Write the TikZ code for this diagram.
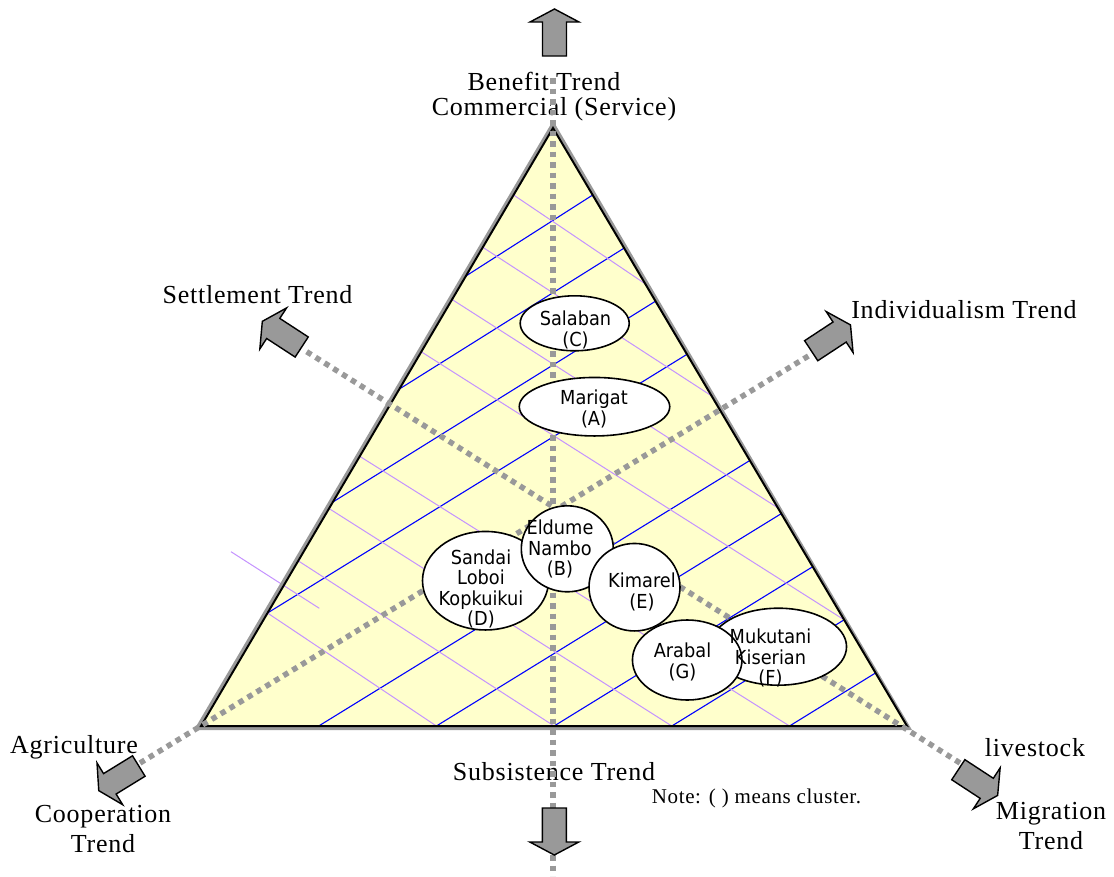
\documentclass[tikz,border=0pt]{standalone}
\usepackage{fontspec}
\setmainfont{Liberation Serif}
\newfontfamily\lblfont[LetterSpace=3]{Liberation Serif}
\newfontfamily\ellfont[FakeStretch=0.92]{DejaVu Sans}
\usetikzlibrary{shapes.geometric}
\definecolor{paleyellow}{RGB}{255,255,204}
\definecolor{axisgray}{RGB}{153,153,153}
\definecolor{gridblue}{RGB}{0,0,255}
\definecolor{gridviolet}{RGB}{196,146,255}

\begin{document}
\begin{tikzpicture}[x=1pt,y=-1pt,
  edgeshadow/.style={draw=axisgray, line width=3pt},
  edgeline/.style={draw=black, line width=2pt},
  bluegrid/.style={draw=gridblue, line width=1.1pt},
  violetgrid/.style={draw=gridviolet, line width=1pt},
  axis/.style={draw=axisgray, line width=5.5pt, dash pattern=on 5.5pt off 5pt},
  trendarrow/.style={fill=axisgray, draw=black, line width=1.4pt, line join=miter},
  cluster/.style={ellipse, draw=black, fill=white, line width=1.6pt, inner sep=0pt},
  clustertext/.style={font=\ellfont\fontsize{19.3}{20.5}\selectfont, align=center, inner sep=0pt},
  trendlabel/.style={font=\lblfont\fontsize{26}{30}\selectfont, inner sep=0pt, align=center},
  notelabel/.style={font=\lblfont\fontsize{21}{24}\selectfont, inner sep=0pt},
  barrow/.pic={\path[trendarrow] (0,-12) -- (34,-12) -- (34,-24.5) -- (47,0)
      -- (34,24.5) -- (34,12) -- (0,12) -- cycle;}
]
\useasboundingbox (0,0) rectangle (1114,876);

% triangle corners
\coordinate (apex) at (553,128);
\coordinate (bl) at (201,726);
\coordinate (br) at (907,726);
\coordinate (apexS) at (553,123.5);
\coordinate (blS) at (196.6,728.5);
\coordinate (brS) at (909.4,728.5);

\fill[paleyellow] (apex) -- (bl) -- (br) -- cycle;

% grid: lines perpendicular to the right side
\foreach \x/\y/\u/\v in {875.6/672.9/789.5/726, 844.1/619.8/671.8/726,
    812.7/566.7/554.1/726, 781.3/513.6/436.4/726, 749.8/460.5/318.7/726,
    687.0/354.3/267.5/613, 655.5/301.2/332.9/502, 624.1/248.1/399.4/389,
    592.7/195.0/465.9/276}
  \draw[bluegrid] (\x,\y) -- (\u,\v);
% grid: lines perpendicular to the left side
\foreach \x/\y/\u/\v in {267.5/613/436.4/726, 298.2/560.8/554.1/726,
    329.0/508.5/671.8/726, 359.7/456.3/789.5/726,
    421.3/351.8/844.1/619.8, 452.1/299.5/777.8/507.8,
    482.8/247.3/711.5/395.8, 513.6/195/645.2/283.8,
    231/551.7/319.3/608.3}
  \draw[violetgrid] (\x,\y) -- (\u,\v);

% triangle outline with its grey edge
\draw[edgeshadow] (apexS) -- (blS) -- (brS) -- cycle;
\draw[edgeline] (apex) -- (bl) -- (br) -- cycle;

% trend labels
\node[trendlabel, anchor=base] (benefit) at (544,90) {Benefit Trend};
\node[trendlabel, anchor=base] (commercial) at (554,115) {Commercial (Service)};
\node[trendlabel, anchor=base] (settlement) at (257.5,303) {Settlement Trend};
\node[trendlabel, anchor=base] (individualism) at (964,318) {Individualism Trend};
\node[trendlabel, anchor=base] (agriculture) at (74,753) {Agriculture};
\node[trendlabel] (cooperation) at (103,829) {Cooperation\\Trend};
\node[trendlabel, anchor=base] (livestock) at (1035,756.7) {livestock};
\node[trendlabel] (migration) at (1051,826) {Migration\\Trend};
\node[trendlabel, anchor=base] (subsistence) at (554,780) {Subsistence Trend};
\node[notelabel, anchor=base west] (note) at (651.7,803) {Note: ( ) means cluster.};

% dotted axes
\coordinate (vtop) at (553,78);
\coordinate (vbot) at (553,876);
\coordinate (agriEnd) at (140,763);
\coordinate (indEnd) at (810,355);
\coordinate (setEnd) at (306.7,351.7);
\coordinate (migEnd) at (960,763);
\draw[axis] (vtop) -- (vbot);
\draw[axis] (agriEnd) -- (indEnd);
\draw[axis] (setEnd) -- (migEnd);

% block arrows at the axis ends
\pic[rotate=90] at (554.5,56) {barrow};
\pic[rotate=-90] at (554.3,808) {barrow};
\pic[rotate=146.9] at (301.7,347) {barrow};
\pic[rotate=33.3] at (811.2,350.7) {barrow};
\pic[rotate=211.6] at (138.8,766) {barrow};
\pic[rotate=-33.2] at (958.3,769.7) {barrow};

% clusters
\node[cluster, minimum width=109pt, minimum height=55pt] (C) at (574.7,323.3) {};
\node[cluster, minimum width=150.5pt, minimum height=58.5pt] (A) at (594.5,406.7) {};
\node[cluster, minimum width=126pt, minimum height=98.5pt] (D) at (485.5,580.7) {};
\node[cluster, minimum width=92pt, minimum height=86pt] (B) at (567.3,548.8) {};
\node[cluster, minimum width=91pt, minimum height=87.5pt] (E) at (634.5,587.2) {};
\node[cluster, minimum width=136.5pt, minimum height=77pt] (F) at (778.3,646.7) {};
\node[cluster, minimum width=109.5pt, minimum height=80pt] (G) at (687.2,660) {};

\node[clustertext] (Ct) at (575.5,330) {Salaban\\(C)};
\node[clustertext] (At) at (594,409) {Marigat\\(A)};
\node[clustertext] (Dt) at (481,589) {Sandai\\Loboi\\Kopkuikui\\(D)};
\node[clustertext] (Bt) at (560,549) {Eldume\\Nambo\\(B)};
\node[clustertext] (Et) at (642,592) {Kimarel\\(E)};
\node[clustertext] (Ft) at (770.5,658) {Mukutani\\Kiserian\\(F)};
\node[clustertext] (Gt) at (682.5,662) {Arabal\\(G)};
\end{tikzpicture}
\end{document}
